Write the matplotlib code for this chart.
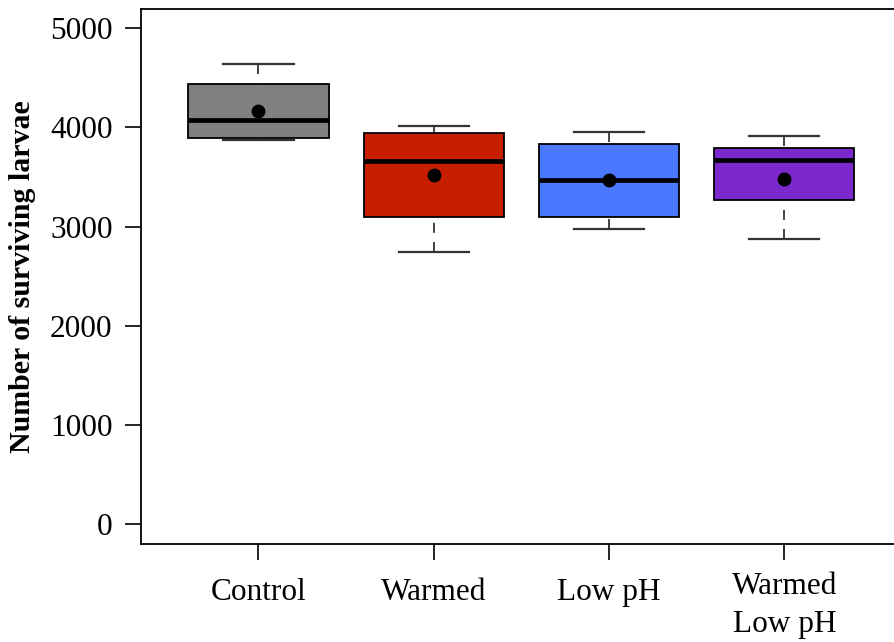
#!/usr/bin/env python3

import matplotlib
matplotlib.use("Agg")
import matplotlib.pyplot as plt
from matplotlib.transforms import offset_copy

plt.rcParams["font.family"] = ["Liberation Serif", "DejaVu Serif"]

GROUPS = ["Control", "Warmed", "Low pH", "Warmed\nLow pH"]
WHISLO = [3873, 2746, 2975, 2880]
Q1 = [3896, 3099, 3102, 3273]
MEDIAN = [4078, 3662, 3471, 3672]
Q3 = [4440, 3941, 3833, 3790]
WHISHI = [4645, 4011, 3954, 3910]
MEANS = [4168, 3518, 3471, 3484]

COLORS = ["#808080", "#C81E00", "#4A78FF", "#7B28CC"]

stats = []
for i, name in enumerate(GROUPS):
    stats.append({
        "label": name,
        "whislo": WHISLO[i], "q1": Q1[i], "med": MEDIAN[i],
        "q3": Q3[i], "whishi": WHISHI[i], "mean": MEANS[i],
    })

fig = plt.figure(figsize=(8.95, 6.42), dpi=100)
ax = fig.add_axes([141 / 895, 98 / 642, 759 / 895, 535.5 / 642])

bp = ax.bxp(
    stats, positions=[1, 2, 3, 4], widths=0.8, patch_artist=True,
    showmeans=True, showfliers=False,
    boxprops=dict(edgecolor="black", linewidth=1.3),
    medianprops=dict(color="black", linewidth=3.4, solid_capstyle="butt"),
    whiskerprops=dict(color="#222222", linewidth=1.2, linestyle=(0, (6, 5.5))),
    capprops=dict(color="#333333", linewidth=1.6),
    meanprops=dict(marker="o", markerfacecolor="black",
                   markeredgecolor="black", markersize=9),
    capwidths=0.4,
)

for patch, c in zip(bp["boxes"], COLORS):
    patch.set_facecolor(c)

# start the dash pattern at the cap, not at the box edge
for line in bp["whiskers"]:
    line.set_ydata(line.get_ydata()[::-1])

ax.set_xlim(0.33, 4.66)
ax.set_ylim(-200, 5200)
ax.set_yticks([0, 1000, 2000, 3000, 4000, 5000])
ax.set_xticks([1, 2, 3, 4])
ax.set_xticklabels(GROUPS, linespacing=1.4)

ax.spines["right"].set_visible(False)
for s in ax.spines.values():
    s.set_linewidth(1.3)

ax.tick_params(axis="both", direction="out", length=11.5, width=1.2,
               labelsize=22.5)
ax.tick_params(axis="x", pad=13)
ax.tick_params(axis="y", pad=9)

# two-line label sits a little higher than the others
lab = ax.get_xticklabels()[3]
lab.set_transform(offset_copy(lab.get_transform(), fig=fig, y=6, units="dots"))

ax.set_ylabel("Number of surviving larvae", fontsize=21.5,
              fontweight="bold", labelpad=10)

fig.savefig("out.png", dpi=100)
